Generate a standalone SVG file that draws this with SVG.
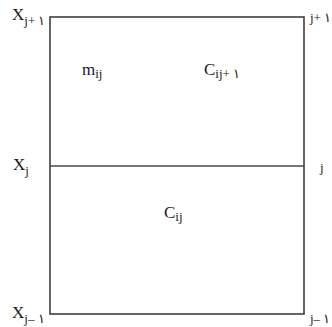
<svg xmlns="http://www.w3.org/2000/svg" width="332" height="327" viewBox="0 0 332 327">
<style>
.t{font-family:"Liberation Serif","DejaVu Serif",serif;fill:#1a1a1a}
.b{font-size:17px}
.s{font-size:13px}
.ln{stroke:#4a4a4a;stroke-width:1.7;fill:none}
</style>
<rect width="332" height="327" fill="#fff"/>
<g id="connectors">
<rect class="ln" x="50" y="17" width="254" height="297"/>
<line class="ln" x1="50" y1="166" x2="304" y2="166"/>
</g>
<g id="label-xj1-top"><text class="t b" x="12" y="20">X<tspan class="s" dy="5">j+ ۱</tspan></text></g>
<g id="label-xj"><text class="t b" x="13" y="170">X<tspan class="s" dy="5">j</tspan></text></g>
<g id="label-xj1-bottom"><text class="t b" x="12" y="318">X<tspan class="s" dy="5">j– ۱</tspan></text></g>
<g id="label-j1-top"><text class="t s" x="310" y="22">j+ ۱</text></g>
<g id="label-j"><text class="t s" x="320" y="172">j</text></g>
<g id="label-j1-bottom"><text class="t s" x="310" y="323">j– ۱</text></g>
<g id="label-mij"><text class="t b" x="82" y="75">m<tspan class="s" dy="3">ij</tspan></text></g>
<g id="label-cij1"><text class="t b" x="204" y="75">C<tspan class="s" dy="3">ij+ ۱</tspan></text></g>
<g id="label-cij"><text class="t b" x="164" y="218">C<tspan class="s" dy="3">ij</tspan></text></g>
</svg>
